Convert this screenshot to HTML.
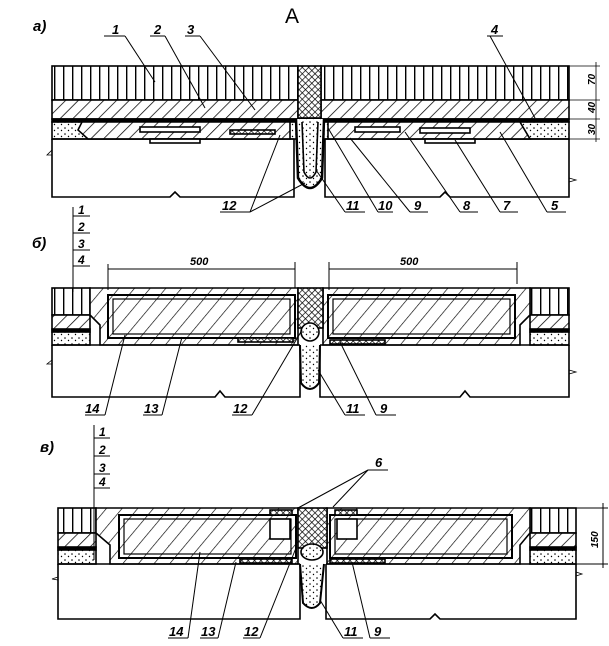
<!DOCTYPE html>
<html><head><meta charset="utf-8"><style>
html,body{margin:0;padding:0;background:#fff}
svg{display:block}
text{font-family:"Liberation Sans",sans-serif;font-style:italic;fill:#000;font-weight:bold}
</style></head><body>
<svg width="609" height="646" viewBox="0 0 609 646" xmlns="http://www.w3.org/2000/svg">
<defs>
<pattern id="vl" width="9" height="10" patternUnits="userSpaceOnUse"><rect width="9" height="10" fill="#fff"/><line x1="0.7" y1="0" x2="0.7" y2="10" stroke="#000" stroke-width="1.4"/></pattern>
<pattern id="dh" width="9" height="9" patternUnits="userSpaceOnUse" patternTransform="rotate(45)"><rect width="9" height="9" fill="#fff"/><line x1="0" y1="0" x2="0" y2="9" stroke="#000" stroke-width="1.5"/></pattern>
<pattern id="dh2" width="12" height="12" patternUnits="userSpaceOnUse" patternTransform="rotate(40)"><rect width="12" height="12" fill="#fff"/><line x1="0" y1="0" x2="0" y2="12" stroke="#000" stroke-width="1.3"/></pattern>
<pattern id="ch" width="4.5" height="4.5" patternUnits="userSpaceOnUse" patternTransform="rotate(45)"><rect width="4.5" height="4.5" fill="#fff"/><line x1="0" y1="0" x2="0" y2="4.5" stroke="#000" stroke-width="1.4"/><line x1="0" y1="0" x2="4.5" y2="0" stroke="#000" stroke-width="1.4"/></pattern>
<pattern id="dt" width="7" height="6" patternUnits="userSpaceOnUse"><rect width="7" height="6" fill="#fff"/><circle cx="2" cy="2" r="0.8" fill="#000"/><circle cx="5.5" cy="4.5" r="0.7" fill="#000"/></pattern>
</defs>
<g stroke="#000" fill="none" stroke-width="1.6">
<!-- ===== a) ===== -->
<rect x="52" y="66" width="246" height="34" fill="url(#vl)"/>
<rect x="321" y="66" width="248" height="34" fill="url(#vl)"/>
<rect x="52" y="100" width="246" height="19" fill="url(#dh)"/>
<rect x="321" y="100" width="248" height="19" fill="url(#dh)"/>
<rect x="52" y="119" width="517" height="3" fill="#000"/>
<rect x="52" y="122" width="517" height="17" fill="url(#dt)"/>
<polygon points="82,122 290,122 290,139 88,139 78,130" fill="url(#dh)"/>
<polygon points="328,122 520,122 530,139 328,139" fill="url(#dh)"/>
<rect x="140" y="127" width="60" height="5" fill="#fff"/><rect x="230" y="130" width="45" height="4" fill="url(#ch)"/>
<rect x="355" y="127" width="45" height="5" fill="#fff"/><rect x="420" y="128" width="50" height="5" fill="#fff"/>
<rect x="150" y="139" width="50" height="4" fill="#fff"/><rect x="425" y="139" width="50" height="4" fill="#fff"/>
<rect x="298" y="66" width="23" height="52" fill="url(#ch)"/>
<path d="M296,119 L298,178 Q310,198 322,178 L324,119" fill="url(#dt)" stroke-width="2.5"/>
<path d="M302,122 L304,172 Q310,184 316,172 L318,122"/>
<polyline points="52,139 52,197 170,197 175,192 180,197 294,197 294,139"/>
<polyline points="325,139 325,197 440,197 445,192 450,197 569,197 569,139"/>
<line x1="52" y1="139" x2="294" y2="139"/><line x1="325" y1="139" x2="569" y2="139"/>
<polyline points="52,150 47,155 52,155" stroke-width="0.8"/><polyline points="569,178 576,180 569,182" stroke-width="0.8"/>
<line x1="569" y1="66" x2="600" y2="66" stroke-width="0.8"/><line x1="569" y1="100" x2="600" y2="100" stroke-width="0.8"/><line x1="569" y1="119" x2="600" y2="119" stroke-width="0.8"/><line x1="569" y1="139" x2="600" y2="139" stroke-width="0.8"/>
<line x1="596" y1="62" x2="596" y2="142" stroke-width="0.8"/>
<g stroke-width="1">
<line x1="104" y1="36" x2="125" y2="36"/><line x1="125" y1="36" x2="155" y2="82"/>
<line x1="150" y1="36" x2="165" y2="36"/><line x1="165" y1="36" x2="205" y2="108"/>
<line x1="185" y1="36" x2="200" y2="36"/><line x1="200" y1="36" x2="255" y2="110"/>
<line x1="487" y1="36" x2="503" y2="36"/><line x1="490" y1="36" x2="535" y2="118"/>
<line x1="220" y1="212" x2="250" y2="212"/><line x1="250" y1="212" x2="280" y2="135"/><line x1="250" y1="212" x2="305" y2="183"/>
<line x1="345" y1="212" x2="365" y2="212"/><line x1="345" y1="212" x2="316" y2="170"/>
<line x1="378" y1="212" x2="393" y2="212"/><line x1="378" y1="212" x2="328" y2="128"/>
<line x1="410" y1="212" x2="428" y2="212"/><line x1="410" y1="212" x2="350" y2="138"/>
<line x1="460" y1="212" x2="478" y2="212"/><line x1="460" y1="212" x2="405" y2="132"/>
<line x1="500" y1="212" x2="518" y2="212"/><line x1="500" y1="212" x2="455" y2="140"/>
<line x1="547" y1="212" x2="566" y2="212"/><line x1="547" y1="212" x2="500" y2="132"/>
</g>
<!-- ===== б) ===== -->
<rect x="52" y="288" width="38" height="27" fill="url(#vl)"/>
<rect x="52" y="315" width="38" height="15" fill="url(#dh)"/>
<rect x="52" y="329" width="38" height="3" fill="#000"/>
<rect x="52" y="332" width="38" height="13" fill="url(#dt)"/>
<rect x="530" y="288" width="39" height="27" fill="url(#vl)"/>
<rect x="530" y="315" width="39" height="15" fill="url(#dh)"/>
<rect x="530" y="329" width="39" height="3" fill="#000"/>
<rect x="530" y="332" width="39" height="13" fill="url(#dt)"/>
<polygon points="90,288 298,288 298,345 100,345 100,325 90,315" fill="url(#dh2)"/>
<polygon points="323,288 530,288 530,315 520,325 520,345 323,345" fill="url(#dh2)"/>
<rect x="108" y="295" width="187" height="43" fill="none" stroke-width="2"/>
<rect x="113" y="299" width="177" height="35" fill="none" stroke-width="1.2"/>
<rect x="328" y="295" width="187" height="43" fill="none" stroke-width="2"/>
<rect x="333" y="299" width="177" height="35" fill="none" stroke-width="1.2"/>
<rect x="238" y="338" width="55" height="4" fill="url(#ch)"/><rect x="330" y="340" width="55" height="4" fill="url(#ch)"/>
<rect x="298" y="288" width="25" height="40" fill="url(#ch)"/>
<circle cx="310" cy="332" r="9" fill="url(#dt)"/>
<path d="M300,345 L301,383 Q310,395 319,383 L320,345" fill="url(#dt)" stroke-width="2"/>
<polyline points="52,345 52,397 215,397 220,391 225,397 300,397 300,345"/>
<polyline points="320,345 320,397 460,397 465,391 470,397 569,397 569,345"/>
<line x1="52" y1="345" x2="300" y2="345"/><line x1="320" y1="345" x2="569" y2="345"/>
<polyline points="52,360 47,364 52,364" stroke-width="0.8"/><polyline points="569,370 576,372 569,374" stroke-width="0.8"/>
<g stroke-width="1">
<line x1="108" y1="269" x2="295" y2="269"/><line x1="108" y1="264" x2="108" y2="290"/><line x1="295" y1="262" x2="295" y2="288"/>
<line x1="329" y1="269" x2="517" y2="269"/><line x1="329" y1="262" x2="329" y2="290"/><line x1="517" y1="262" x2="517" y2="284"/>
<line x1="73" y1="207" x2="73" y2="292"/>
<line x1="73" y1="216" x2="90" y2="216"/><line x1="73" y1="233" x2="90" y2="233"/><line x1="73" y1="250" x2="90" y2="250"/><line x1="73" y1="266" x2="90" y2="266"/>
<line x1="85" y1="415" x2="105" y2="415"/><line x1="105" y1="415" x2="125" y2="335"/>
<line x1="143" y1="415" x2="162" y2="415"/><line x1="162" y1="415" x2="182" y2="337"/>
<line x1="232" y1="415" x2="252" y2="415"/><line x1="252" y1="415" x2="302" y2="330"/>
<line x1="345" y1="415" x2="365" y2="415"/><line x1="345" y1="415" x2="318" y2="370"/>
<line x1="376" y1="415" x2="396" y2="415"/><line x1="376" y1="415" x2="340" y2="342"/>
</g>
<!-- ===== в) ===== -->
<rect x="58" y="508" width="38" height="25" fill="url(#vl)"/>
<rect x="58" y="533" width="38" height="15" fill="url(#dh)"/>
<rect x="58" y="547" width="38" height="3" fill="#000"/>
<rect x="58" y="550" width="38" height="14" fill="url(#dt)"/>
<rect x="530" y="508" width="46" height="25" fill="url(#vl)"/>
<rect x="530" y="533" width="46" height="15" fill="url(#dh)"/>
<rect x="530" y="547" width="46" height="3" fill="#000"/>
<rect x="530" y="550" width="46" height="14" fill="url(#dt)"/>
<polygon points="96,508 298,508 298,564 110,564 110,545 96,533" fill="url(#dh2)"/>
<polygon points="327,508 530,508 530,533 520,545 520,564 327,564" fill="url(#dh2)"/>
<rect x="119" y="515" width="177" height="43" fill="none" stroke-width="2"/>
<rect x="124" y="519" width="167" height="35" fill="none" stroke-width="1.2"/>
<rect x="330" y="515" width="182" height="43" fill="none" stroke-width="2"/>
<rect x="335" y="519" width="172" height="35" fill="none" stroke-width="1.2"/>
<rect x="270" y="519" width="20" height="20" fill="#fff"/><rect x="337" y="519" width="20" height="20" fill="#fff"/>
<rect x="270" y="510" width="22" height="5" fill="url(#ch)"/><rect x="335" y="510" width="22" height="5" fill="url(#ch)"/>
<rect x="240" y="559" width="52" height="4" fill="url(#ch)"/><rect x="330" y="559" width="55" height="4" fill="url(#ch)"/>
<rect x="298" y="508" width="29" height="40" fill="url(#ch)"/>
<ellipse cx="312" cy="552" rx="11" ry="8" fill="url(#dt)"/>
<path d="M300,564 L303,603 Q312,613 320,603 L324,564" fill="url(#dt)" stroke-width="2"/>
<polyline points="58,564 58,619 300,619 300,564"/>
<polyline points="326,564 326,619 430,619 435,614 440,619 576,619 576,564"/>
<line x1="58" y1="564" x2="300" y2="564"/><line x1="326" y1="564" x2="576" y2="564"/>
<polyline points="58,577 52,579 58,580" stroke-width="0.8"/><polyline points="576,572 582,574 576,576" stroke-width="0.8"/>
<g stroke-width="1">
<line x1="576" y1="508" x2="608" y2="508"/><line x1="576" y1="564" x2="608" y2="564"/><line x1="603" y1="503" x2="603" y2="568"/>
<line x1="94" y1="425" x2="94" y2="560"/>
<line x1="94" y1="438" x2="110" y2="438"/><line x1="94" y1="456" x2="110" y2="456"/><line x1="94" y1="474" x2="110" y2="474"/><line x1="94" y1="488" x2="110" y2="488"/>
<line x1="368" y1="470" x2="388" y2="470"/><line x1="368" y1="470" x2="298" y2="508"/><line x1="368" y1="470" x2="333" y2="507"/>
<line x1="168" y1="638" x2="188" y2="638"/><line x1="188" y1="638" x2="200" y2="552"/>
<line x1="200" y1="638" x2="218" y2="638"/><line x1="218" y1="638" x2="236" y2="562"/>
<line x1="243" y1="638" x2="260" y2="638"/><line x1="260" y1="638" x2="296" y2="548"/>
<line x1="343" y1="638" x2="363" y2="638"/><line x1="343" y1="638" x2="320" y2="600"/>
<line x1="370" y1="638" x2="390" y2="638"/><line x1="370" y1="638" x2="352" y2="562"/>
</g>
</g>
<text x="285" y="23" font-size="21" style="font-style:normal;font-weight:normal">А</text>
<text x="33" y="31" font-size="15">а)</text>
<text x="112" y="34" font-size="13">1</text><text x="154" y="34" font-size="13">2</text><text x="187" y="34" font-size="13">3</text><text x="491" y="34" font-size="13">4</text>
<text x="222" y="210" font-size="13">12</text><text x="346" y="210" font-size="13">11</text><text x="378" y="210" font-size="13">10</text><text x="414" y="210" font-size="13">9</text><text x="463" y="210" font-size="13">8</text><text x="503" y="210" font-size="13">7</text><text x="551" y="210" font-size="13">5</text>
<text transform="translate(595,85) rotate(-90)" font-size="10">70</text>
<text transform="translate(595,113) rotate(-90)" font-size="10">40</text>
<text transform="translate(595,135) rotate(-90)" font-size="10">30</text>
<text x="32" y="248" font-size="15">б)</text>
<text x="78" y="214" font-size="12">1</text><text x="78" y="231" font-size="12">2</text><text x="78" y="248" font-size="12">3</text><text x="78" y="264" font-size="12">4</text>
<text x="190" y="265" font-size="11">500</text><text x="400" y="265" font-size="11">500</text>
<text x="85" y="413" font-size="13">14</text><text x="144" y="413" font-size="13">13</text><text x="233" y="413" font-size="13">12</text><text x="346" y="413" font-size="13">11</text><text x="380" y="413" font-size="13">9</text>
<text x="40" y="452" font-size="15">в)</text>
<text x="99" y="436" font-size="12">1</text><text x="99" y="454" font-size="12">2</text><text x="99" y="472" font-size="12">3</text><text x="99" y="486" font-size="12">4</text>
<text x="375" y="467" font-size="13">6</text>
<text transform="translate(598,548) rotate(-90)" font-size="10">150</text>
<text x="169" y="636" font-size="13">14</text><text x="201" y="636" font-size="13">13</text><text x="244" y="636" font-size="13">12</text><text x="344" y="636" font-size="13">11</text><text x="374" y="636" font-size="13">9</text>
</svg>
</body></html>
